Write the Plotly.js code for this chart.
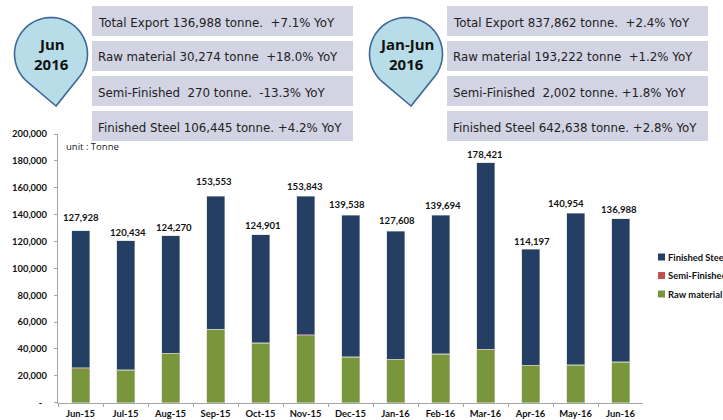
<!DOCTYPE html>
<html><head><meta charset="utf-8">
<script src="https://cdn.plot.ly/plotly-3.0.1.min.js"></script>
<style>html,body{margin:0;padding:0;background:#fff}#c{width:723px;height:420px}</style>
</head><body><div id="c"></div>
<script>
const months=['Jun-15','Jul-15','Aug-15','Sep-15','Oct-15','Nov-15','Dec-15','Jan-16','Feb-16','Mar-16','Apr-16','May-16','Jun-16'];
const totalExport=[127928,120434,124270,153553,124901,153843,139538,127608,139694,178421,114197,140954,136988];
const rawMaterial=[25300,24100,36400,54500,44100,50000,33700,32000,36200,39400,27600,27748,30274];
const semiFinished=[700,600,400,250,350,500,500,300,330,360,300,442,270];
const finishedSteel=[101928,95734,87470,98803,80451,103343,105338,95307,103164,138661,86297,112764,106445];
const yTicks=[0,20000,40000,60000,80000,100000,120000,140000,160000,180000,200000];
const yTickText=['-\u00a0\u00a0','20,000','40,000','60,000','80,000','100,000','120,000','140,000','160,000','180,000','200,000'];
const legendNames=['Finished Steel','Semi-Finished','Raw material'];
const leftTitle=['Jun','2016'];
const rightTitle=['Jan-Jun','2016'];
const leftLines=['Total Export 136,988 tonne.  +7.1% YoY','Raw material 30,274 tonne  +18.0% YoY','Semi-Finished  270 tonne.  -13.3% YoY','Finished Steel 106,445 tonne. +4.2% YoY'];
const rightLines=['Total Export 837,862 tonne.  +2.4% YoY','Raw material 193,222 tonne  +1.2% YoY','Semi-Finished  2,002 tonne. +1.8% YoY','Finished Steel 642,638 tonne. +2.8% YoY'];
// hand placement of the total labels, in pixels relative to the bar top
const labelDx=[0,2,3.5,-1.5,2.5,-0.5,-4,1,2,-0.5,1,-10,-2];
const labelDy=[6,1,1,7,2,2,3.5,3.6,2.3,1,0.3,2.6,1.7];

const W=723,H=420;
const px=x=>x/W, py=y=>1-y/H;
const labFont={family:'Lato,sans-serif',size:9.6,color:'#111',weight:700};
const tickFont={family:'Lato,sans-serif',size:9.4,color:'#111',weight:700};
const boxFont={family:'"DejaVu Sans",sans-serif',size:11.8,color:'#222'};
const shapes=[],annotations=[];
const rows=[[6,36],[41,71],[76,106],[111,141]];
function panel(x0,x1,tx,lines){
  lines.forEach((t,i)=>{
    shapes.push({type:'rect',xref:'paper',yref:'paper',layer:'below',x0:px(x0),x1:px(x1),y0:py(rows[i][1]),y1:py(rows[i][0]),fillcolor:'#d2d3e3',line:{width:0}});
    annotations.push({xref:'paper',yref:'paper',x:px(tx),y:py((rows[i][0]+rows[i][1])/2+1.5),xanchor:'left',yanchor:'middle',showarrow:false,text:t.replace(/  /g,'&nbsp; '),font:boxFont});
  });
}
panel(92,353,96,leftLines);
panel(447,708,451,rightLines);
function pin(cx,cy,r,tipX,tipY,title){
  const P=(x,y)=>px(x).toFixed(5)+','+py(y).toFixed(5);
  const d=Math.hypot(tipX-cx,tipY-cy);
  const half=Math.acos(r/d)*180/Math.PI;
  const dir=180-Math.atan2(tipX-cx,tipY-cy)*180/Math.PI;
  let pts=[];
  for(let a=dir+half;a<=dir+360-half;a+=5){const t=a*Math.PI/180;pts.push(P(cx+r*Math.sin(t),cy-r*Math.cos(t)));}
  const path='M'+P(tipX,tipY)+' L'+pts.join(' L')+' Z';
  shapes.push({type:'path',xref:'paper',yref:'paper',path:path,fillcolor:'#b7dde8',line:{color:'#3f6797',width:1.6}});
  const f={family:'"Open Sans",sans-serif',size:15,color:'#111',weight:700};
  annotations.push({xref:'paper',yref:'paper',x:px(cx),y:py(cy-10),xanchor:'center',yanchor:'middle',showarrow:false,text:title[0],font:f});
  annotations.push({xref:'paper',yref:'paper',x:px(cx),y:py(cy+10),xanchor:'center',yanchor:'middle',showarrow:false,text:title[1],font:f});
}
pin(51,54,36.5,56,106,leftTitle);
pin(406,54,36.5,411,106,rightTitle);
annotations.push({xref:'paper',yref:'paper',x:px(64),y:py(146.7),xanchor:'left',yanchor:'middle',showarrow:false,text:'unit : Tonne',font:{family:'"Open Sans",sans-serif',size:9.5,color:'#222'}});
months.forEach((m,i)=>annotations.push({x:m,y:totalExport[i],xref:'x',yref:'y',xshift:labelDx[i],yshift:labelDy[i],yanchor:'bottom',showarrow:false,text:totalExport[i].toLocaleString('en-US'),font:labFont}));
const legendColors=['#243f63','#c0504d','#7a963c'];
legendNames.forEach((n,i)=>{
  const y=257+18.5*i;
  shapes.push({type:'rect',xref:'paper',yref:'paper',x0:px(658),x1:px(665),y0:py(y+3.5),y1:py(y-3.5),fillcolor:legendColors[i],line:{width:0}});
  annotations.push({xref:'paper',yref:'paper',x:px(665.5),y:py(y),xanchor:'left',yanchor:'middle',showarrow:false,text:n,font:tickFont});
});
const bar=(name,y,color)=>({type:'bar',name,x:months,y,marker:{color,line:{color:'#c9d2c4',width:0.5}},hoverinfo:'name+y'});
const traces=[bar('Raw material',rawMaterial,legendColors[2]),bar('Semi-Finished',semiFinished,legendColors[1]),bar('Finished Steel',finishedSteel,legendColors[0])];
const layout={width:W,height:H,paper_bgcolor:'#fff',plot_bgcolor:'#fff',showlegend:false,barmode:'stack',bargap:0.6,
  margin:{l:0,r:0,t:0,b:0,pad:0},
  xaxis:{domain:[px(58),px(643)],type:'category',tickfont:tickFont,showgrid:false,showline:true,linecolor:'#a6a6a6',linewidth:1.2,ticks:'outside',ticklen:3,tickcolor:'#a6a6a6',tickson:'boundaries',ticklabelstandoff:2,tickangle:0,fixedrange:true,automargin:false},
  yaxis:{domain:[py(402.7),py(134)],range:[0,200000],tickvals:yTicks,ticktext:yTickText,tickfont:tickFont,showgrid:false,showline:true,linecolor:'#a6a6a6',linewidth:1.2,ticks:'outside',ticklen:3,tickcolor:'#a6a6a6',ticklabelstandoff:5,automargin:false,zeroline:false,fixedrange:true},
  shapes,annotations};
Plotly.newPlot('c',traces,layout,{displayModeBar:false,staticPlot:true});
</script></body></html>
